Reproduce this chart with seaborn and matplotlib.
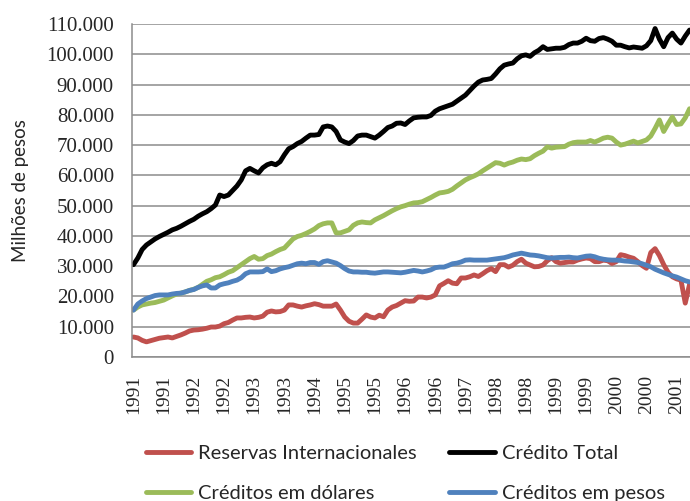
import matplotlib
matplotlib.use("Agg")
import matplotlib.pyplot as plt
from matplotlib.ticker import FuncFormatter, MultipleLocator
import seaborn as sns
import numpy as np
import pandas as pd

# monthly series, Jan 1991 - Oct 2001 (millions of pesos)
meses = pd.date_range("1991-01-01", periods=130, freq="MS")

reservas = [
    6600, 6300, 5500, 5000, 5400, 5800, 6200, 6400, 6600, 6300,
    6800, 7300, 7900, 8600, 8900, 9000, 9200, 9500, 9900, 9900,
    10200, 11000, 11400, 12200, 12900, 12900, 13100, 13200, 12900, 13100,
    13500, 14800, 15200, 14900, 15000, 15500, 17200, 17200, 16800, 16500,
    16900, 17200, 17600, 17300, 16800, 16800, 16800, 17500, 15500, 13200,
    11800, 11200, 11200, 12500, 13900, 13200, 12900, 13800, 13300, 15500,
    16500, 17000, 17800, 18600, 18400, 18500, 19800, 19800, 19500, 19800,
    20500, 23500, 24300, 25200, 24400, 24200, 26100, 26100, 26500, 27100,
    26600, 27500, 28500, 29200, 28200, 30500, 30500, 29700, 30300, 31500,
    32300, 31000, 30400, 29800, 29900, 30400, 31800, 32800, 31500, 31000,
    31200, 31400, 31400, 32000, 32400, 32700, 32500, 31500, 31500, 32000,
    31800, 30900, 31500, 33800, 33500, 33000, 32600, 31500, 30200, 29300,
    34500, 35800, 33500, 30500, 28000, 26500, 25800, 25400, 17800, 24000,
]

credito_total = [
    30500, 32700, 35500, 37000, 38000, 39000, 39800, 40500, 41200, 42000,
    42500, 43200, 44000, 44800, 45500, 46500, 47300, 48000, 49000, 50200,
    53500, 53000, 53500, 55000, 56500, 58500, 61500, 62300, 61500, 60800,
    62500, 63500, 64000, 63500, 64500, 66800, 68800, 69500, 70500, 71200,
    72300, 73300, 73300, 73500, 76000, 76300, 76000, 74500, 71700, 71000,
    70500, 71500, 73000, 73300, 73300, 72800, 72300, 73300, 74500, 75800,
    76300, 77200, 77300, 76800, 78000, 79000, 79200, 79300, 79300, 79800,
    81200, 82000, 82500, 83000, 83500, 84500, 85500, 86500, 88000, 89500,
    90800, 91500, 91700, 92000, 93500, 95200, 96400, 96800, 97100, 98500,
    99500, 99800, 99300, 100500, 101300, 102500, 101600, 101800, 102000, 102000,
    102300, 103200, 103700, 103700, 104300, 105300, 104500, 104300, 105200, 105500,
    105000, 104300, 103000, 103000, 102500, 102100, 102400, 102200, 102000, 102800,
    104500, 108500, 105000, 102500, 105500, 107000, 105000, 103700, 106000, 108000,
]

creditos_dolares = [
    15500, 16500, 17200, 17500, 17800, 18000, 18400, 18800, 19500, 20200,
    20800, 21100, 21500, 22000, 22400, 23000, 24000, 25000, 25500, 26200,
    26500, 27200, 28000, 28500, 29500, 30500, 31500, 32500, 33200, 32300,
    32500, 33500, 34000, 34800, 35500, 36000, 37500, 39000, 39800, 40200,
    40800, 41500, 42300, 43400, 44000, 44300, 44300, 41000, 41000, 41500,
    42000, 43500, 44300, 44600, 44400, 44300, 45300, 46000, 46700, 47500,
    48300, 49000, 49600, 50000, 50500, 50900, 51000, 51300, 52000, 52700,
    53500, 54200, 54400, 54700, 55400, 56500, 57500, 58500, 59200, 59800,
    60500, 61500, 62400, 63300, 64200, 64000, 63400, 64000, 64400, 65000,
    65400, 65200, 65500, 66500, 67300, 68000, 69400, 69000, 69300, 69400,
    69500, 70300, 70800, 71000, 71000, 71000, 71500, 71000, 71600, 72300,
    72600, 72300, 71000, 70000, 70300, 70800, 71300, 70700, 71200, 71700,
    73000, 75500, 78300, 74500, 77000, 79300, 76800, 77000, 79000, 82000,
]

creditos_pesos = [
    15500, 17500, 18500, 19300, 19800, 20300, 20500, 20500, 20500, 20800,
    21000, 21100, 21500, 22000, 22300, 23000, 23500, 23800, 22800, 22800,
    23800, 24200, 24500, 25000, 25400, 26200, 27500, 28100, 28100, 28100,
    28200, 29100, 28200, 28500, 29100, 29500, 29800, 30300, 30800, 31000,
    30800, 31200, 31200, 30600, 31500, 31800, 31400, 31000, 30200, 29200,
    28400, 28100, 28100, 28000, 28000, 27800, 27700, 27900, 28100, 28100,
    28000, 27900, 27800, 28000, 28300, 28600, 28400, 28100, 28400, 28800,
    29500, 29700, 29700, 30200, 30800, 31000, 31400, 32000, 32100, 32000,
    32000, 32000, 32000, 32200, 32400, 32600, 32800, 33200, 33700, 34000,
    34300, 34000, 33700, 33600, 33400, 33100, 32800, 32700, 32800, 32900,
    32900, 33000, 32800, 32700, 33000, 33300, 33400, 33100, 32600, 32300,
    32100, 32000, 32000, 31900, 31700, 31600, 31400, 31200, 30800, 30300,
    29800, 29000, 28400, 27800, 27300, 26800, 26400, 25800, 25200, 24800,
]

series = ["Reservas Internacionales", "Crédito Total",
          "Créditos em dólares", "Créditos em pesos"]
cores = ["#C0504D", "#000000", "#9BBB59", "#4F81BD"]

df = pd.DataFrame({
    "mes": np.tile(np.arange(len(meses)), 4),
    "valor": reservas + credito_total + creditos_dolares + creditos_pesos,
    "serie": np.repeat(series, len(meses)),
})

sns.set_style("white")
plt.rcParams["font.family"] = ["Lato", "DejaVu Sans"]

fig = plt.figure(figsize=(6.9, 5.01), dpi=100)
ax = fig.add_axes([132 / 690, 144 / 501, 558 / 690, 333 / 501])

sns.lineplot(data=df, x="mes", y="valor", hue="serie", hue_order=series,
             palette=cores, linewidth=3.5, legend=False, ax=ax)

ax.set_xlim(-0.35, 129.1)
ax.set_ylim(0, 110000)
ax.yaxis.set_major_locator(MultipleLocator(10000))
ax.yaxis.set_major_formatter(FuncFormatter(lambda v, p: f"{int(v):,}".replace(",", ".")))
ax.grid(axis="y", color="#8c8c8c", linewidth=1.1)
ax.set_axisbelow(True)

ticks = np.arange(0, len(meses), 7)
ax.set_xticks(ticks)
ax.set_xticklabels([str(meses[i].year) for i in ticks], rotation=90,
                   family="Liberation Serif", fontsize=14)
for lab in ax.get_yticklabels():
    lab.set_family("Liberation Serif")
    lab.set_fontsize(15)
ax.tick_params(axis="x", length=0, pad=13)
ax.tick_params(axis="y", length=0, pad=13)

for s in ["top", "right"]:
    ax.spines[s].set_visible(False)
for s in ["left", "bottom"]:
    ax.spines[s].set_color("#8c8c8c")
    ax.spines[s].set_linewidth(1.1)

ax.set_xlabel("")
ax.set_ylabel("Milhões de pesos", fontsize=13.5)
ax.yaxis.set_label_coords(-0.185, 0.5)

linhas = ax.get_lines()[:4]
ordem = [0, 2, 1, 3]
fig.legend([linhas[i] for i in ordem], [series[i] for i in ordem],
           ncol=2, loc="center left", bbox_to_anchor=(128 / 690, 1 - 473.5 / 501),
           frameon=False, fontsize=14.5, handlelength=2.25, handletextpad=0.35,
           columnspacing=1.6, labelspacing=1.1)

fig.savefig("out.png", dpi=100)
